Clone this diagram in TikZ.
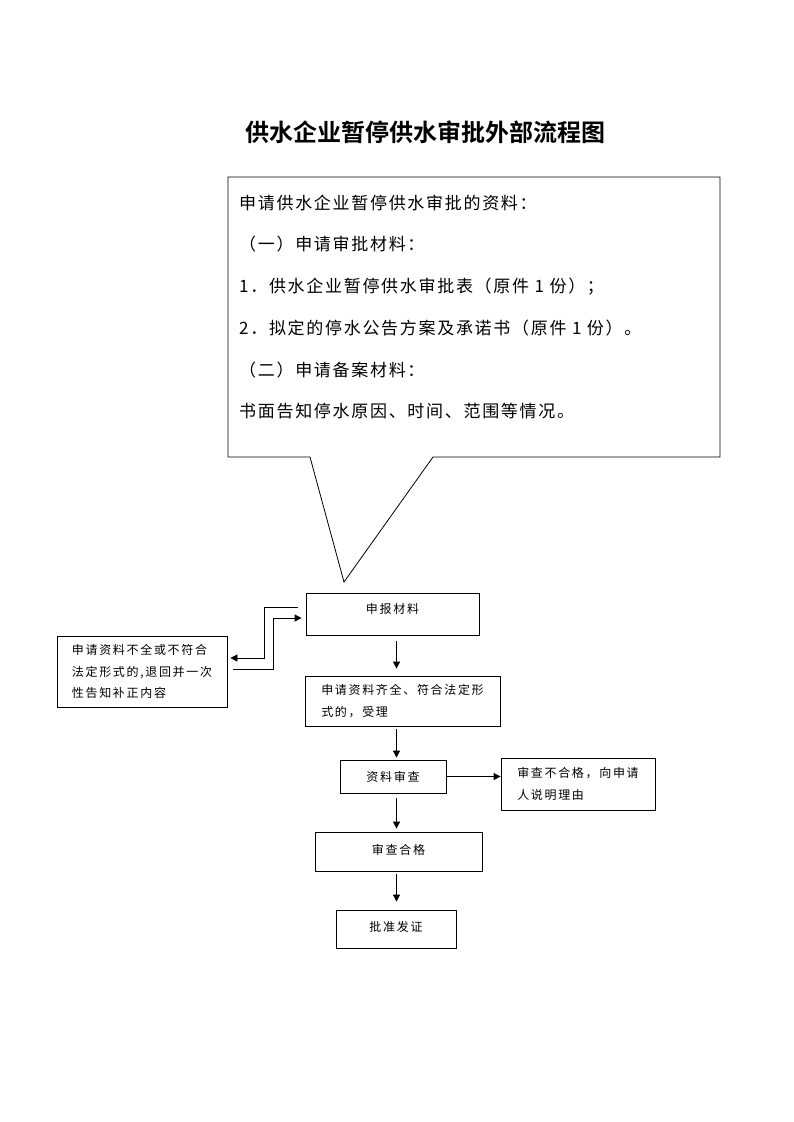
\documentclass[tikz,border=0pt]{standalone}
\usepackage{fontspec}
\usetikzlibrary{arrows.meta,calc}
\newfontfamily\cjk[LetterSpace=10]{Noto Sans CJK SC}
\newfontfamily\cjkbold{Noto Sans CJK SC Bold}
\newfontfamily\boxfont[LetterSpace=14]{Noto Sans CJK SC}
\begin{document}
\begin{tikzpicture}[x=1pt,y=-1pt,
  line/.style={draw=black,line width=0.8pt},
  box/.style={line, rectangle, inner sep=0pt, align=left,
     font={\boxfont\fontsize{12}{21.5}\selectfont}},
  arr/.style={line, -{Triangle[length=7pt,width=7pt]}},
  calltext/.style={anchor=west, inner sep=0pt, font={\cjk\fontsize{17}{20}\selectfont}}]
\useasboundingbox (0,0) rectangle (793,1122);
\fill[white] (0,0) rectangle (793,1122);

\node[font={\cjkbold\fontsize{24}{28}\selectfont}] (title) at (425,132) {供水企业暂停供水审批外部流程图};

% callout
\draw[line] (228,177) -- (720,177) -- (720,457) -- (433,457) -- (344,582) -- (310,457) -- (228,457) -- cycle;
\node[calltext] (c1) at (239,203) {申请供水企业暂停供水审批的资料：};
\node[calltext] (c2) at (239,244) {（一）申请审批材料：};
\node[calltext] (c3) at (239,287) {1．供水企业暂停供水审批表（原件 1 份）；};
\node[calltext] (c4) at (239,328) {2．拟定的停水公告方案及承诺书（原件 1 份）。};
\node[calltext] (c5) at (239,370) {（二）申请备案材料：};
\node[calltext] (c6) at (239,411) {书面告知停水原因、时间、范围等情况。};

% flow boxes
\node[box, minimum width=173pt, minimum height=42pt, text depth=12pt] (sb) at (392.5,614) {申报材料};
\node[box, minimum width=170pt, minimum height=71pt] (lb) at (142,671.5) {申请资料不全或不符合\\法定形式的,退回并一次\\性告知补正内容};
\node[box, minimum width=195pt, minimum height=50pt] (qq) at (402.5,701) {申请资料齐全、符合法定形\\式的，受理};
\node[box, minimum width=106pt, minimum height=33pt] (sc) at (393,776.5) {资料审查};
\node[box, minimum width=154pt, minimum height=52pt] (bh) at (578,784) {审查不合格，向申请\\人说明理由};
\node[box, minimum width=167pt, minimum height=39pt, text depth=5pt] (hg) at (398.5,851.5) {审查合格};
\node[box, minimum width=120pt, minimum height=38pt, text depth=5pt] (pz) at (396,929) {批准发证};

\coordinate (col) at (396.5,0);

% connectors
\draw[arr, shorten <=6pt, shorten >=7pt] (sb.south -| col) -- (qq.north -| col);
\draw[arr, shorten <=3pt, shorten >=2pt] (qq.south -| col) -- (sc.north -| col);
\draw[arr, shorten <=5pt, shorten >=3pt] (sc.south -| col) -- (hg.north -| col);
\draw[arr, shorten <=3pt, shorten >=8pt] (hg.south -| col) -- (pz.north -| col);
\draw[arr] (sc.east) -- (bh.west |- sc.east);

\draw[arr] ([shift={(-8pt,7pt)}]sb.west) -- ++(-33pt,0) |- ([shift={(3pt,13.5pt)}]lb.east);
\draw[arr] ([shift={(6pt,2.5pt)}]lb.east) -- ++(40pt,0) |- ([shift={(-4pt,-4pt)}]sb.west);
\end{tikzpicture}
\end{document}
